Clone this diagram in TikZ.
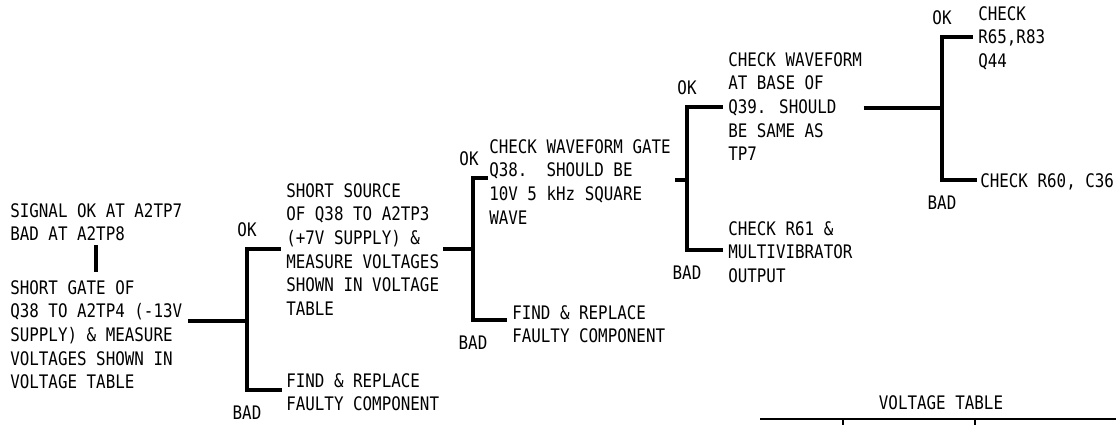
\documentclass[tikz,border=0pt]{standalone}
\usepackage{fontspec}
\setmainfont{DejaVu Sans Mono}[FakeStretch=0.85]
\usetikzlibrary{positioning}
\newcommand{\lettering}{\fontsize{14}{17.7}\selectfont}

\tikzset{
  boxtext/.style={align=left, inner sep=0pt, anchor=north west, font=\lettering},
  branch/.style={line width=3pt},
  okl/.style={above=9.2pt, inner sep=0pt, font=\lettering},
  badl/.style={below=11.8pt, inner sep=0pt, font=\lettering},
}

\begin{document}
\begin{tikzpicture}[x=0.75pt, y=-0.75pt]
            \useasboundingbox (0,0) rectangle (1116,425);

            % steps of the chart
            \node[boxtext] (sig) at (10,203.2) {SIGNAL OK AT A2TP7\\BAD AT A2TP8};
            \node[boxtext] (gate) at (10,280.2) {SHORT GATE OF\\Q38 TO A2TP4 (-13V\\SUPPLY) \& MEASURE\\VOLTAGES SHOWN IN\\VOLTAGE TABLE};
            \node[boxtext] (src) at (286,183.2) {SHORT SOURCE\\OF Q38 TO A2TP3\\(+7V SUPPLY) \&\\MEASURE VOLTAGES\\SHOWN IN VOLTAGE\\TABLE};
            \node[boxtext] (fix1) at (286,373.2) {FIND \& REPLACE\\FAULTY COMPONENT};
            \node[boxtext] (wave) at (489,139.2) {CHECK WAVEFORM GATE\\Q38.\ \ SHOULD BE\\10V 5 kHz SQUARE\\WAVE};
            \node[boxtext] (fix2) at (512,305.2) {FIND \& REPLACE\\FAULTY COMPONENT};
            \node[boxtext] (base) at (728,52.2) {CHECK WAVEFORM\\AT BASE OF\\Q39. SHOULD\\BE SAME AS\\TP7};
            \node[boxtext] (r61) at (728,221.2) {CHECK R61 \&\\MULTIVIBRATOR\\OUTPUT};
            \node[boxtext] (r65) at (978,6.2) {CHECK\\R65,R83\\Q44};
            \node[boxtext] (r60) at (980,173.2) {CHECK R60, C36};

            % bracket corners
            \coordinate (j1) at (247,321);
            \coordinate (b1t) at (247,249);
            \coordinate (b1b) at (247,390);
            \coordinate (j2) at (473,249);
            \coordinate (b2t) at (473,178);
            \coordinate (b2b) at (473,320);
            \coordinate (j3) at (687,180);
            \coordinate (b3t) at (687,107);
            \coordinate (b3b) at (687,250);
            \coordinate (j4) at (942,108);
            \coordinate (b4t) at (942,37);
            \coordinate (b4b) at (942,180);

            \draw[branch] (sig.south |- 0,245) -- (sig.south |- 0,272);

            \draw[branch] ([xshift=4pt]gate.east |- j1) -- (j1);
            \draw[branch] ([xshift=-4pt]src.west |- b1t) -- (b1t) -- (b1b) -- ([xshift=-3pt]fix1.west |- b1b);
            \node[okl] (ok1) at (b1t) {OK};
            \node[badl] (bad1) at (b1b) {BAD};

            \draw[branch] ([xshift=3pt]src.east |- j2) -- (j2);
            \draw[branch] ([xshift=-1pt]wave.west |- b2t) -- (b2t) -- (b2b) -- ([xshift=-4pt]fix2.west |- b2b);
            \node[okl, xshift=-3pt] (ok2) at (b2t) {OK};
            \node[badl] (bad2) at (b2b) {BAD};

            \draw[branch] ([xshift=3pt]wave.east |- j3) -- (j3);
            \draw[branch] ([xshift=-4pt]base.west |- b3t) -- (b3t) -- (b3b) -- ([xshift=-4pt]r61.west |- b3b);
            \node[okl] (ok3) at (b3t) {OK};
            \node[badl] (bad3) at (b3b) {BAD};

            \draw[branch] ([xshift=1pt]base.east |- j4) -- (j4);
            \draw[branch] ([xshift=-4pt]r65.west |- b4t) -- (b4t) -- (b4b) -- ([xshift=-2pt]r60.west |- b4b);
            \node[okl] (ok4) at (b4t) {OK};
            \node[badl] (bad4) at (b4b) {BAD};

            % voltage table (top edge only)
            \node[font=\lettering, inner sep=0pt] (vt) at (941,403) {VOLTAGE TABLE};
            \draw[line width=1.2pt] (760,419) -- (1116,419);
            \draw[line width=1pt] (843,419) -- (843,425);
            \draw[line width=1pt] (975,419) -- (975,425);
        \end{tikzpicture}
\end{document}
